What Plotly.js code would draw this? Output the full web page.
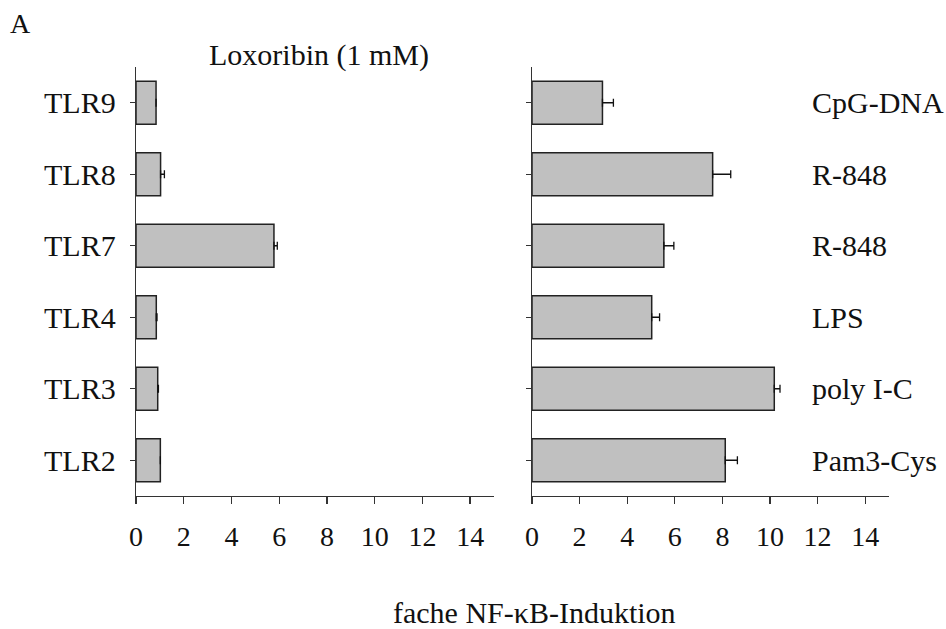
<!DOCTYPE html>
<html>
<head>
<meta charset="utf-8">
<script src="https://cdn.plot.ly/plotly-3.0.1.min.js"></script>
<style>html,body{margin:0;padding:0;background:#fff;}#chart{width:946px;height:629px;}</style>
</head>
<body>
<div id="chart"></div>
<script>
// Categories (bottom to top)
const receptors = ['TLR2', 'TLR3', 'TLR4', 'TLR7', 'TLR8', 'TLR9'];
// Left panel: Loxoribin (1 mM)
const loxoribinValues = [1.02, 0.91, 0.85, 5.78, 1.03, 0.84];
const loxoribinErrors = [0.0, 0.03, 0.03, 0.14, 0.16, 0.0];
// Right panel: control ligands
const ligandLabels = ['Pam3-Cys', 'poly I-C', 'LPS', 'R-848', 'R-848', 'CpG-DNA'];
const ligandValues = [8.12, 10.18, 5.03, 5.54, 7.59, 2.96];
const ligandErrors = [0.51, 0.24, 0.33, 0.42, 0.76, 0.46];
const xTicks = [0, 2, 4, 6, 8, 10, 12, 14];

const FONT = 'Liberation Serif, Times New Roman, serif';
const barStyle = {color: '#c0c0c0', line: {color: '#222', width: 1.5}};
const errStyle = {type: 'data', symmetric: false, thickness: 1.3, width: 4, color: '#111'};

const traces = [
  {type: 'bar', orientation: 'h', y: receptors, x: loxoribinValues, xaxis: 'x', yaxis: 'y',
   marker: barStyle, error_x: Object.assign({array: loxoribinErrors, arrayminus: receptors.map(() => 0)}, errStyle),
   hoverinfo: 'x+y'},
  {type: 'bar', orientation: 'h', y: receptors, x: ligandValues, xaxis: 'x2', yaxis: 'y2',
   marker: barStyle, error_x: Object.assign({array: ligandErrors, arrayminus: receptors.map(() => 0)}, errStyle),
   hoverinfo: 'x+y'}
];

const xCommon = {range: [0, 15], tickvals: xTicks, ticktext: xTicks.map(String), showline: true, linecolor: '#333',
  linewidth: 1.3, ticks: 'outside', ticklen: 7, tickwidth: 1.3, tickcolor: '#333', showgrid: false, zeroline: false,
  ticklabelstandoff: 8, tickfont: {family: FONT, size: 28, color: '#111'}, fixedrange: true};
const yCommon = {type: 'category', categoryorder: 'array', categoryarray: receptors, range: [-0.5, 5.5],
  domain: [133/629, 562/629], showline: true, linecolor: '#333', linewidth: 1.3, ticks: 'outside', ticklen: 5,
  tickwidth: 1.3, tickcolor: '#333', showgrid: false, zeroline: false, fixedrange: true};

const annotations = [
  {text: 'A', x: 20/946, y: 1 - 24/629, xref: 'paper', yref: 'paper', xanchor: 'center', yanchor: 'middle',
   showarrow: false, font: {family: FONT, size: 28, color: '#111'}},
  {text: 'Loxoribin (1 mM)', x: 319/946, y: 1 - 55/629, xref: 'paper', yref: 'paper', xanchor: 'center', yanchor: 'middle',
   showarrow: false, font: {family: FONT, size: 30, color: '#111'}},
  {text: 'fache NF-κB-Induktion', x: 534/946, y: 1 - 612/629, xref: 'paper', yref: 'paper', xanchor: 'center', yanchor: 'middle',
   showarrow: false, font: {family: FONT, size: 30, color: '#111'}}
];
ligandLabels.forEach((lab, i) => {
  annotations.push({text: lab, x: 810/946, y: receptors[i], xref: 'paper', yref: 'y2', xanchor: 'left', yanchor: 'middle',
    showarrow: false, font: {family: FONT, size: 30, color: '#111'}});
});

const layout = {
  width: 946, height: 629, margin: {l: 0, r: 0, t: 0, b: 0},
  paper_bgcolor: '#fff', plot_bgcolor: '#fff', showlegend: false, bargap: 0.4,
  xaxis: Object.assign({}, xCommon, {domain: [136/946, 494/946], anchor: 'y'}),
  xaxis2: Object.assign({}, xCommon, {domain: [532/946, 889/946], anchor: 'y2'}),
  yaxis: Object.assign({}, yCommon, {anchor: 'x', ticklabelstandoff: 8, tickfont: {family: FONT, size: 30, color: '#111'}}),
  yaxis2: Object.assign({}, yCommon, {anchor: 'x2', showticklabels: false}),
  annotations: annotations
};

Plotly.newPlot('chart', traces, layout, {displayModeBar: false, staticPlot: true});
</script>
</body>
</html>
